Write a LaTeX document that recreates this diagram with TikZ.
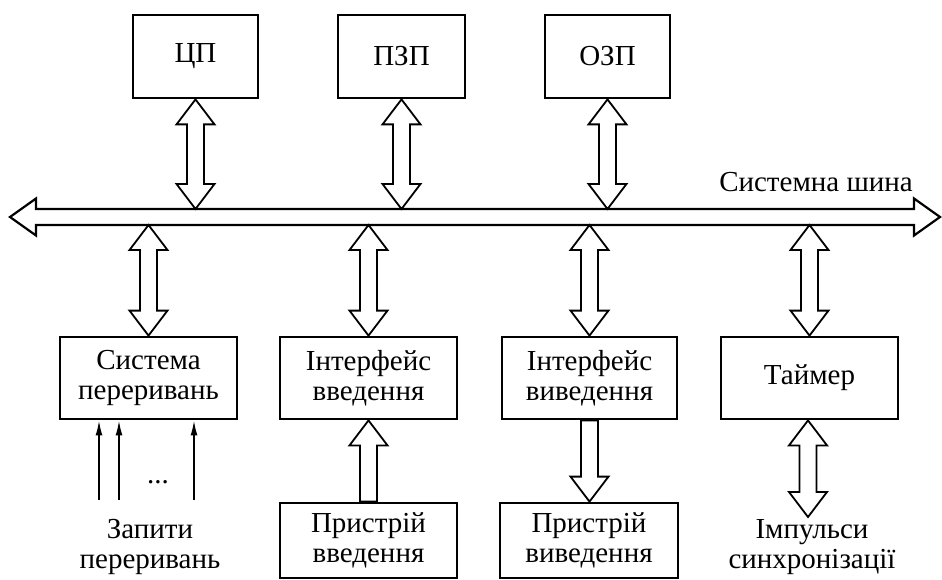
\documentclass[tikz,border=0pt]{standalone}
\usepackage{fontspec}
\setmainfont{Liberation Serif}
\usetikzlibrary{calc,arrows.meta}
\newcommand{\headLen}{25pt}
\newcommand{\headHalf}{19pt}
\newcommand{\shaftHalf}{8.5pt}
\newcommand{\dblArrow}[2]{\filldraw[hollow] let \p1=(#1), \p2=(#2) in (\x1,\y1) -- (\x1+\headHalf,\y1-\headLen) -- (\x1+\shaftHalf,\y1-\headLen) -- (\x1+\shaftHalf,\y2+\headLen) -- (\x1+\headHalf,\y2+\headLen) -- (\x1,\y2) -- (\x1-\headHalf,\y2+\headLen) -- (\x1-\shaftHalf,\y2+\headLen) -- (\x1-\shaftHalf,\y1-\headLen) -- (\x1-\headHalf,\y1-\headLen) -- cycle;}
\newcommand{\upArr}[2]{\filldraw[hollow] let \p1=(#1), \p2=(#2) in (\x1,\y1) -- (\x1+\headHalf,\y1-\headLen) -- (\x1+\shaftHalf,\y1-\headLen) -- (\x1+\shaftHalf,\y2) -- (\x1-\shaftHalf,\y2) -- (\x1-\shaftHalf,\y1-\headLen) -- (\x1-\headHalf,\y1-\headLen) -- cycle;}
\newcommand{\downArr}[2]{\filldraw[hollow] let \p1=(#1), \p2=(#2) in (\x1-\shaftHalf,\y1) -- (\x1+\shaftHalf,\y1) -- (\x1+\shaftHalf,\y2+\headLen) -- (\x1+\headHalf,\y2+\headLen) -- (\x1,\y2) -- (\x1-\headHalf,\y2+\headLen) -- (\x1-\shaftHalf,\y2+\headLen) -- cycle;}

\begin{document}
\begin{tikzpicture}[x=1pt,y=-1pt,font=\fontsize{29}{30}\selectfont,
  unit/.style={draw, line width=2.8pt, fill=white, align=center, inner sep=0pt},
  hollow/.style={draw=black, fill=white, line width=1.8pt, line join=miter},
  reqarrow/.style={line width=1.8pt, -{Latex[length=15pt,width=7pt]}}]

\useasboundingbox (0,0) rectangle (942,580);

\node[unit, minimum width=125pt, minimum height=83pt] (cpu) at (195.5,56.5) {ЦП};
\node[unit, minimum width=127pt, minimum height=83pt] (rom) at (401.5,56.5) {ПЗП};
\node[unit, minimum width=125pt, minimum height=83pt] (ram) at (607.5,56.5) {ОЗП};

\coordinate (busL) at (10,217);
\coordinate (busR) at (940,217);
\coordinate (bustop) at (0,209);
\coordinate (busbot) at (0,225);

\filldraw[hollow, line width=2.2pt] let \p1=(busL), \p2=(busR) in (\x1,\y1) -- (\x1+26pt,\y1+18.5pt) -- (\x1+26pt,\y1+8pt) -- (\x2-26pt,\y1+8pt) -- (\x2-26pt,\y1+18.5pt) -- (\x2,\y1) -- (\x2-26pt,\y1-18.5pt) -- (\x2-26pt,\y1-8pt) -- (\x1+26pt,\y1-8pt) -- (\x1+26pt,\y1-18.5pt) -- cycle;
\node (buslabel) at (816,182) {Системна шина};

\node[unit, minimum width=177pt, minimum height=82pt] (intr) at (148.5,378) {Система\\переривань};
\node[unit, minimum width=177pt, minimum height=82pt] (inif) at (368.5,378) {Інтерфейс\\введення};
\node[unit, minimum width=175pt, minimum height=82pt] (outif) at (589.5,378) {Інтерфейс\\виведення};
\node[unit, minimum width=177pt, minimum height=82pt] (timer) at (809.5,378) {Таймер};

\node[unit, minimum width=177pt, minimum height=75pt] (indev) at (368.5,540.5) {Пристрій\\введення};
\node[unit, minimum width=178pt, minimum height=75pt] (outdev) at (589,540.5) {Пристрій\\виведення};

\dblArrow{cpu.south}{cpu.south |- bustop}
\dblArrow{rom.south}{rom.south |- bustop}
\dblArrow{ram.south}{ram.south |- bustop}

\dblArrow{intr.north |- busbot}{intr.north}
\dblArrow{inif.north |- busbot}{inif.north}
\dblArrow{outif.north |- busbot}{outif.north}
\dblArrow{timer.north |- busbot}{timer.north}

\upArr{indev.north |- inif.south}{indev.north}
\downArr{outif.south}{outif.south |- outdev.north}

\coordinate (syncTip) at (808,517);
\dblArrow{syncTip |- timer.south}{syncTip}
\node[align=center] (sync) at (812,547) {Імпульси\\синхронізації};

\coordinate (req1) at (99,500);
\coordinate (req2) at (119,500);
\coordinate (req3) at (194,500);
\draw[reqarrow] (req1) -- (req1 |- intr.south);
\draw[reqarrow] (req2) -- (req2 |- intr.south);
\draw[reqarrow] (req3) -- (req3 |- intr.south);
\node (dots) at (158,482) {...};
\node[align=center] (reqs) at (150,547) {Запити\\переривань};
\end{tikzpicture}
\end{document}
